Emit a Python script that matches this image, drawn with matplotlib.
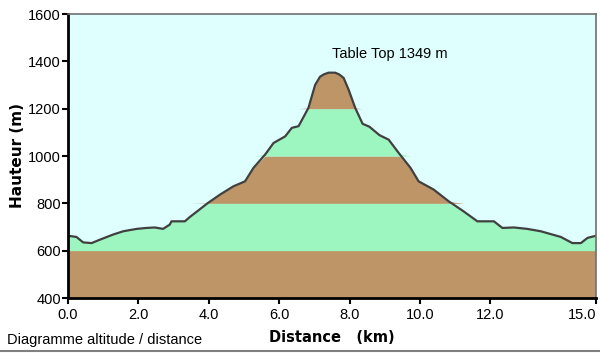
import numpy as np
import matplotlib
matplotlib.use("Agg")
import matplotlib.pyplot as plt
from matplotlib.lines import Line2D

plt.rcParams['font.family'] = ['Liberation Sans', 'DejaVu Sans']

distance_km = [0.0, 0.24, 0.43, 0.67, 0.9, 1.28, 1.57, 1.95, 2.23, 2.47, 2.70, 2.89, 2.94,
               3.32, 3.46, 3.98, 4.32, 4.70, 5.03, 5.27, 5.60, 5.84, 6.17, 6.36, 6.55,
               6.83, 7.02, 7.16, 7.27, 7.40, 7.59, 7.70, 7.83, 7.97, 8.16, 8.37, 8.56, 8.85, 9.11,
               9.42, 9.73, 9.96, 10.39, 10.82, 11.24, 11.63, 12.10, 12.34, 12.67, 13.05,
               13.43, 14.00, 14.33, 14.57, 14.76, 15.0]
altitude_m = [663, 658, 635, 632, 646, 668, 682, 692, 696, 698, 692, 710, 724,
              724, 742, 802, 837, 872, 893, 950, 1006, 1055, 1083, 1119, 1126,
              1203, 1300, 1335, 1345, 1352, 1352, 1345, 1330, 1281, 1203, 1136, 1124, 1088, 1069,
              1008, 950, 893, 858, 808, 766, 724, 724, 696, 698, 692,
              682, 658, 632, 632, 654, 663]

band_edges = [400, 600, 800, 1000, 1200, 1400]
band_colors = ['#BD9566', '#9DF5BF', '#BD9566', '#9DF5BF', '#BD9566']

x_ticks = [0, 2, 4, 6, 8, 10, 12, 15]
x_ticklabels = ['0.0', '2.0', '4.0', '6.0', '8.0', '10.0', '12.0', '15.0']
y_ticks = [400, 600, 800, 1000, 1200, 1400, 1600]

x = np.array(distance_km)
y = np.array(altitude_m)

fig = plt.figure(figsize=(6.0, 3.54), dpi=100)
ax = fig.add_axes([68/600, 1-298/354, (596-68)/600, (298-14)/354])
ax.set_facecolor('#DFFFFF')

for lo, hi, c in zip(band_edges[:-1], band_edges[1:], band_colors):
    ax.fill_between(x, lo, np.clip(y, lo, hi), color=c, linewidth=0)

ax.plot(x, y, color='#404040', linewidth=1.6, solid_joinstyle='round')

ax.set_xlim(0, 15)
ax.set_ylim(400, 1600)
ax.set_xticks(x_ticks)
ax.set_xticklabels(x_ticklabels)
ax.set_yticks(y_ticks)
ax.tick_params(axis='both', direction='out', length=4, width=1.5, colors='black',
               labelsize=10.5)
ax.tick_params(axis='x', pad=3)
ax.tick_params(axis='y', pad=1)
ax.get_xticklabels()[-1].set_horizontalalignment('right')

for side in ['left', 'bottom']:
    ax.spines[side].set_linewidth(2)
    ax.spines[side].set_color('black')
for side in ['top', 'right']:
    ax.spines[side].set_linewidth(1.2)
    ax.spines[side].set_color('#707070')

ax.set_ylabel('Hauteur (m)', fontsize=11, fontweight='bold', labelpad=2,
              family=['DejaVu Sans'])

fig.text(332/600, 1-337/354, 'Distance   (km)', fontsize=10.5, fontweight='bold',
         ha='center', va='center', family=['DejaVu Sans'])
fig.text(7/600, 1-340/354, 'Diagramme altitude / distance', fontsize=10.5,
         ha='left', va='center')
ax.text(7.5, 1433, 'Table Top 1349 m', fontsize=10.5, ha='left', va='center')

fig.add_artist(Line2D([0, 1], [1-351/354, 1-351/354], color='#808080', linewidth=1.5))

fig.savefig('out.png', dpi=100)
